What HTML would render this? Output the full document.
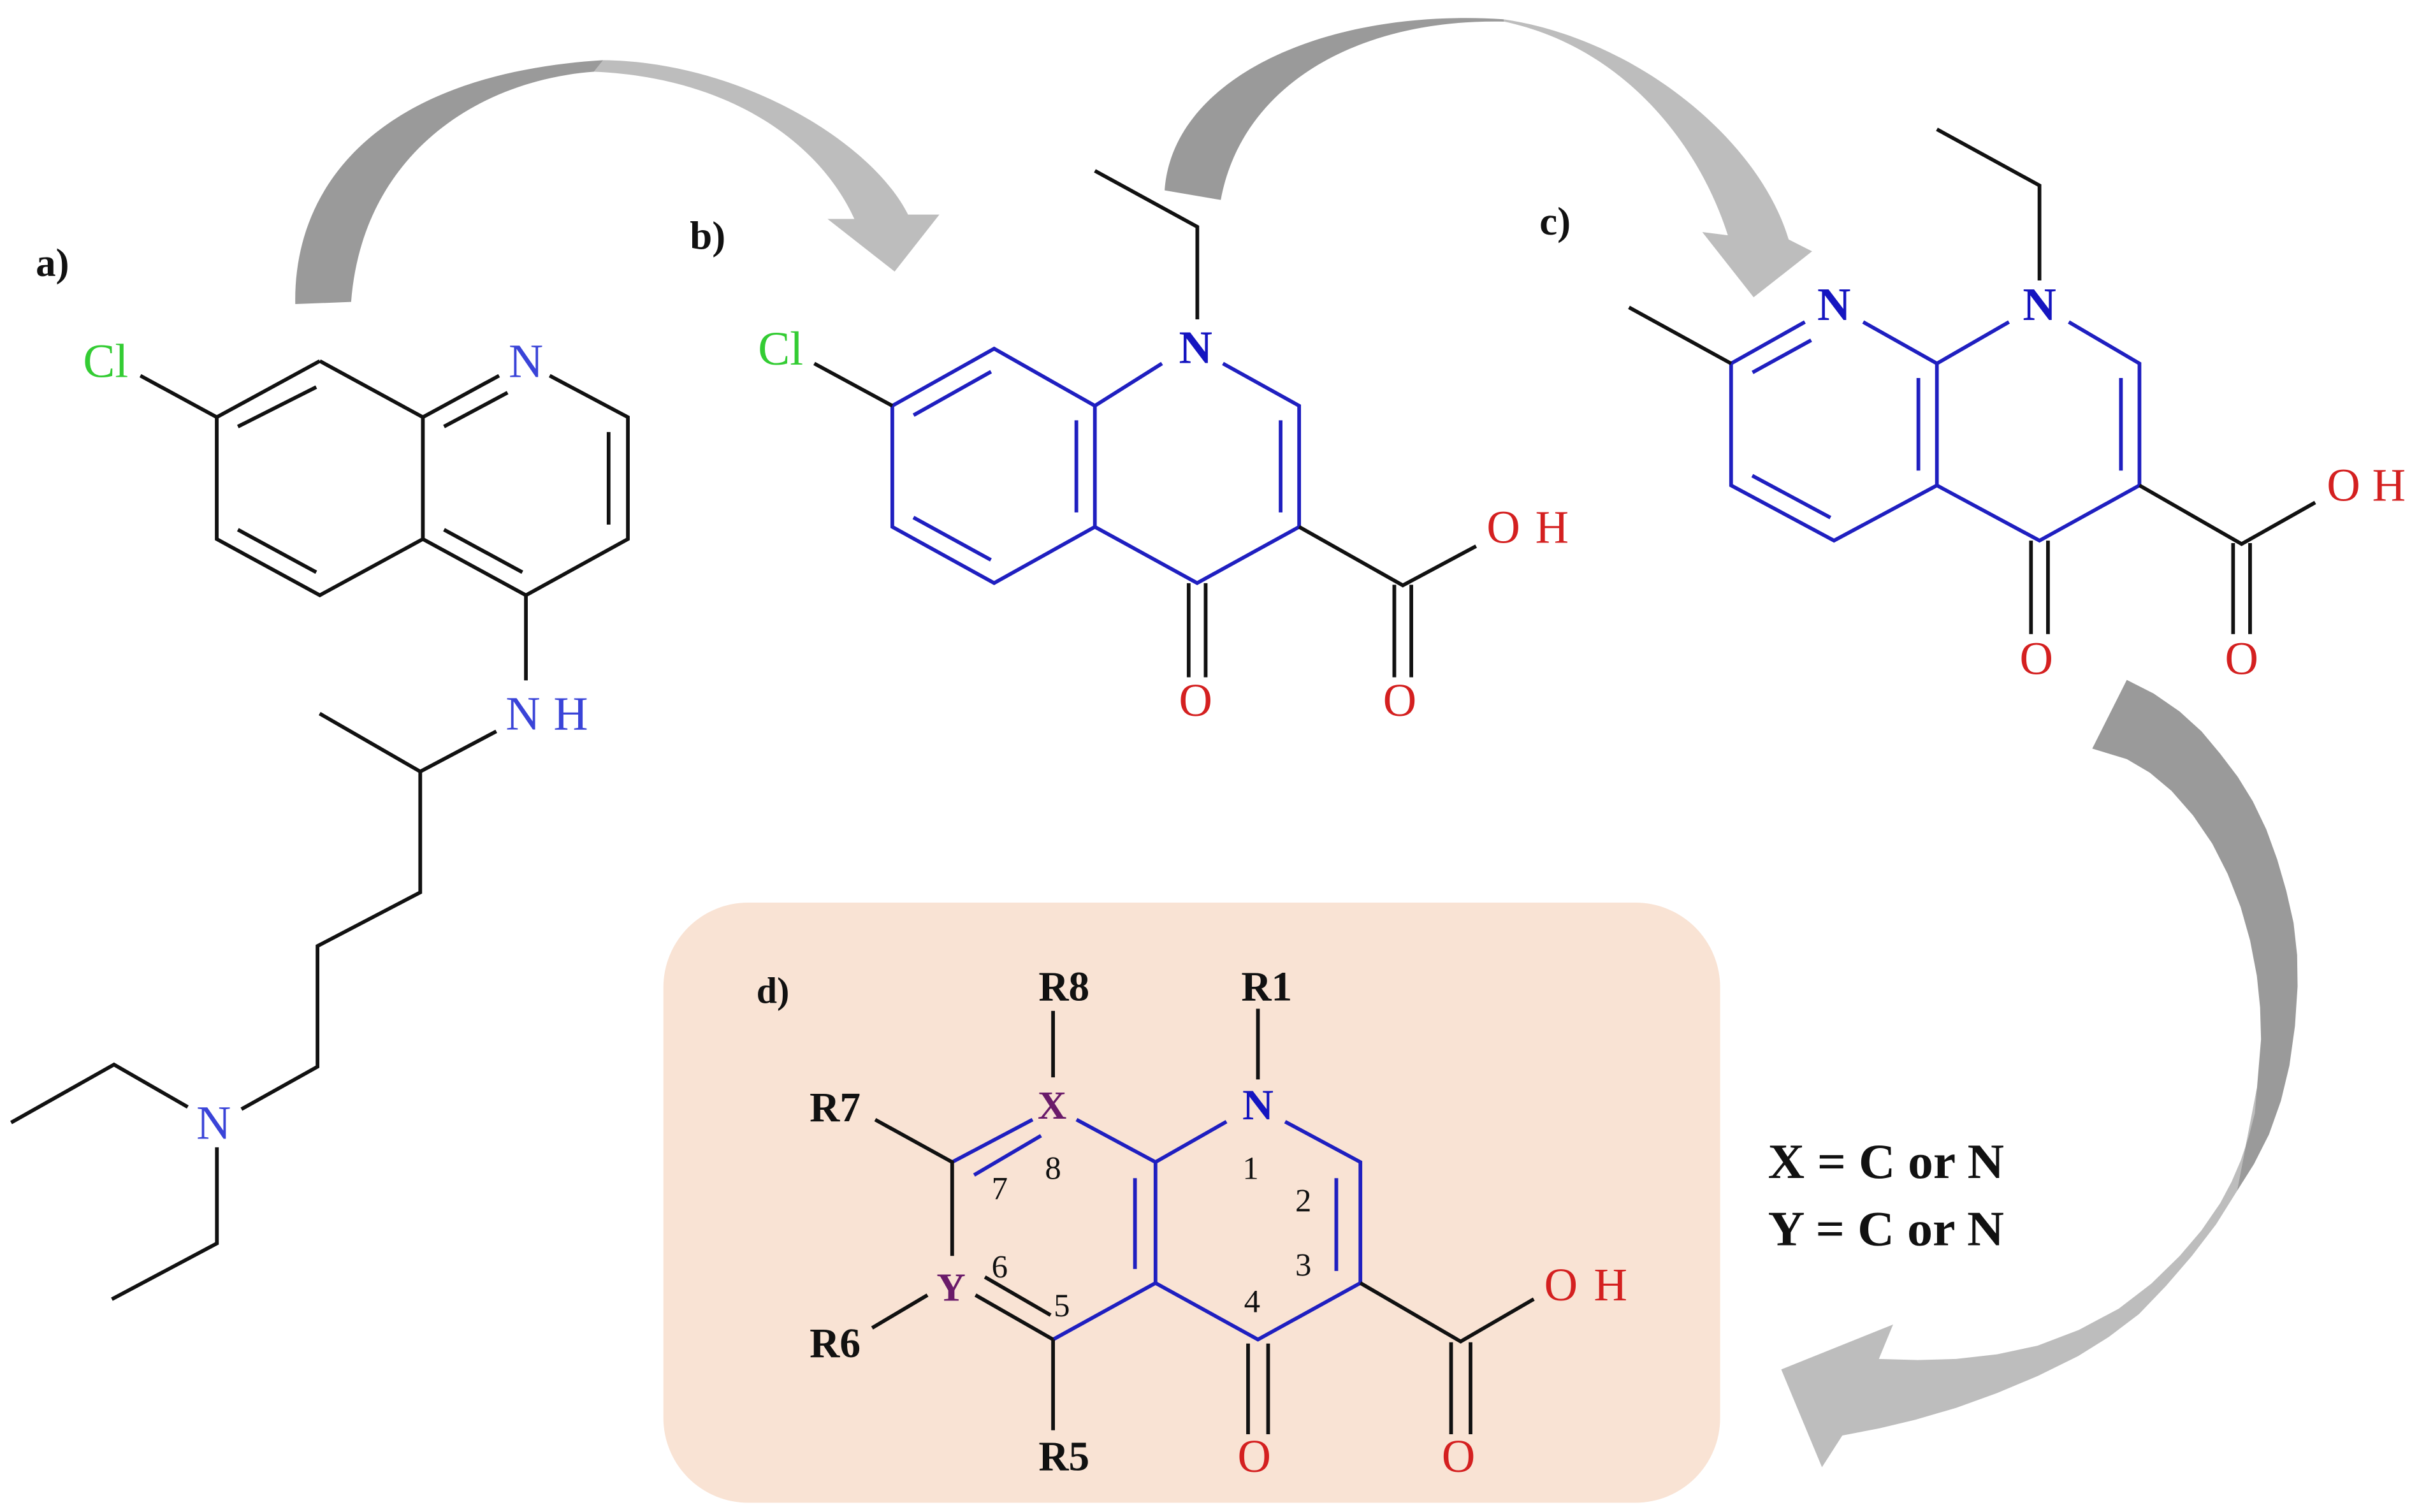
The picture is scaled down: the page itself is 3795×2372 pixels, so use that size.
<!DOCTYPE html>
<html>
<head>
<meta charset="utf-8">
<style>
html,body{margin:0;padding:0;background:#ffffff;}
svg{display:block;}
text{font-family:"Liberation Serif",serif;}
</style>
</head>
<body>
<svg xmlns="http://www.w3.org/2000/svg" width="3795" height="2372" viewBox="0 0 1568 980" preserveAspectRatio="none">
<rect x="0" y="0" width="1568" height="980" fill="#ffffff"/>

<!-- d) background box -->
<rect x="430" y="585" width="685" height="389" rx="55" ry="55" fill="#f9e3d4"/>

<!-- Arrow 1 -->
<path d="M191.4,197.1 C190,120 245,48 391,39 L385,46.5 C310,52 235,100 227.6,195.7 Z" fill="#9a9a9a"/>
<path d="M391,39 C480,40 565,92 588.6,139.1 L608.9,139.1 L579.9,176 L536.4,141.9 L553.8,141.9 C530,90 470,50 385,46.5 Z" fill="#bdbdbd"/>

<!-- Arrow 2 -->
<path d="M754.9,123.4 C760,50 860,5 974.6,12.5 L975,14 C880,12 805,55 791.3,129.6 Z" fill="#9a9a9a"/>
<path d="M974.6,12.5 C1060,25 1140,90 1159.4,155.2 L1174.6,162.9 L1136.7,192.7 L1103.4,150.4 L1120,152.5 C1100,90 1050,30 975,14 Z" fill="#bdbdbd"/>

<!-- Arrow 3 -->
<path d="M1378.6,440.7 L1396,449.5 L1412.9,461.2 L1427,474 L1439.2,488.6 L1450.5,503.5 L1460.3,519.4 L1469,537.5 L1476.1,557.1 L1482,577.5 L1486.7,598.2 L1489,619 L1489.3,639.3 L1487.6,665 L1484,690.7 L1478.5,713.5 L1470.8,735.2 L1461,754.5 L1450,772 L1463,705 L1465.6,673.6 L1465,653 L1462.9,632.5 L1458.5,609.5 L1452.4,587.9 L1444,566.5 L1434,546.8 L1421.5,528.5 L1407.6,512.6 L1393.5,500.8 L1378.6,492 L1356.2,485.2 Z" fill="#9a9a9a"/>
<path d="M1450,772 L1436.5,793.5 L1420.8,814 L1404,833.5 L1386.5,851.7 L1367,866.5 L1347,879 L1321,891.8 L1294.3,903 L1268,912.5 L1241.6,920.2 L1218,925.8 L1194.2,930.4 L1181,951 L1154.6,887.6 L1227.1,858.5 L1217.9,880.8 L1243,881.5 L1268,880.8 L1294.5,877.8 L1320.7,872.2 L1347.5,862 L1373.4,848.2 L1394.5,832 L1412.9,814 L1427,797.5 L1439.2,779.7 L1446.5,766 L1452.4,752.3 L1457.6,737 L1461.6,721.5 L1463,705 Z" fill="#bdbdbd"/>

<!-- ===== Structure a ===== -->
<path fill="none" stroke="#111" stroke-width="2.4" stroke-linejoin="miter" d="M91,243.5 L140.5,270.4 M207.3,234 L140.5,270.4 L140.5,349.4 L207.3,385.8 L274.1,349.4 L274.1,270.4 L207.3,234 M274.1,270.4 L323.5,243.5 M356.3,243.5 L407,270.4 L407,349.4 L340.9,385.8 L274.1,349.4 M154.2,276.5 L205,250.9 M154.2,343.3 L205,370.9 M287.8,276.5 L329,254.5 M394.5,280 L394.5,340 M338.6,370.9 L287.8,343.3 M340.9,385.8 L340.9,441 M321.7,474 L272.4,500.1 L207.2,462.5 M272.4,500.1 L272.4,578.4 L205.8,613.2 L205.8,691.4 L156.5,718.9 M121.7,717.5 L73.9,690 L7.2,727.6 M140.6,743.6 L140.6,805.9 L72.5,842.1"/>
<text x="68.5" y="244.3" font-size="31" fill="#33cc33" text-anchor="middle">Cl</text>
<text x="340.9" y="244.3" font-size="31" fill="#3a44d8" text-anchor="middle">N</text>
<text x="339" y="472.8" font-size="31" fill="#3a44d8" text-anchor="middle">N</text>
<text x="370" y="472.8" font-size="31" fill="#3a44d8" text-anchor="middle">H</text>
<text x="138.5" y="738" font-size="31" fill="#3a44d8" text-anchor="middle">N</text>
<text x="34" y="179" font-size="26" font-weight="bold" fill="#111" text-anchor="middle">a)</text>

<!-- ===== Structure b ===== -->
<path fill="none" stroke="#1f1fc0" stroke-width="2.4" d="M753.2,235.6 L709.7,263 L644.4,226 L578.4,263 L578.4,341.5 L644.4,377.9 L709.7,341.5 L709.7,263 M792.7,235.6 L842.1,263 L842.1,341.5 L776,377.9 L709.7,341.5 M592.2,269.1 L642.4,240.9 M592.1,335.4 L642.3,362.9 M697.7,272.4 L697.7,332.1 M830.1,272.4 L830.1,332.1"/>
<path fill="none" stroke="#111" stroke-width="2.4" d="M709.7,110.7 L776.1,147 L776.1,207 M527.8,235.6 L578.4,263 M770.5,378 L770.5,439 M781.5,378 L781.5,439 M842.1,341.5 L909.3,379.4 L956.8,354 M903.8,379 L903.8,439 M914.8,379 L914.8,439"/>
<text x="506" y="236.3" font-size="31" fill="#33cc33" text-anchor="middle">Cl</text>
<text x="775" y="235.3" font-size="30" font-weight="bold" fill="#1515c0" text-anchor="middle">N</text>
<text x="775" y="464" font-size="30" fill="#d42020" text-anchor="middle">O</text>
<text x="907.3" y="464" font-size="30" fill="#d42020" text-anchor="middle">O</text>
<text x="974.5" y="351.8" font-size="30" fill="#d42020" text-anchor="middle">O</text>
<text x="1006" y="351.8" font-size="30" fill="#d42020" text-anchor="middle">H</text>
<text x="458.7" y="161.4" font-size="26" font-weight="bold" fill="#111" text-anchor="middle">b)</text>

<!-- ===== Structure c ===== -->
<path fill="none" stroke="#1f1fc0" stroke-width="2.4" d="M1169.9,208.7 L1122.1,235.6 L1122.1,314.6 L1188.8,350.4 L1255.5,314.6 L1255.5,235.6 L1207.7,208.7 M1302.2,208.7 L1255.5,235.6 M1341,208.7 L1386.8,235.6 L1386.8,314.6 L1322,350.4 L1255.5,314.6 M1136,241.4 L1174,220.5 M1135.8,308.3 L1186.5,335.5 M1243.5,245 L1243.5,305 M1374.8,245 L1374.8,305"/>
<path fill="none" stroke="#111" stroke-width="2.4" d="M1255.5,83.8 L1322,120.2 L1322,181.8 M1055.9,199.2 L1122.1,235.6 M1316.5,350.4 L1316.5,411 M1327.5,350.4 L1327.5,411 M1386.8,314.6 L1453,352.6 L1500.7,325.7 M1447.5,352 L1447.5,411 M1458.5,352 L1458.5,411"/>
<text x="1188.8" y="207.5" font-size="30" font-weight="bold" fill="#1515c0" text-anchor="middle">N</text>
<text x="1322" y="207.5" font-size="30" font-weight="bold" fill="#1515c0" text-anchor="middle">N</text>
<text x="1320" y="437" font-size="30" fill="#d42020" text-anchor="middle">O</text>
<text x="1453" y="437" font-size="30" fill="#d42020" text-anchor="middle">O</text>
<text x="1519.1" y="324.5" font-size="30" fill="#d42020" text-anchor="middle">O</text>
<text x="1548.5" y="324.5" font-size="30" fill="#d42020" text-anchor="middle">H</text>
<text x="1008" y="152" font-size="26" font-weight="bold" fill="#111" text-anchor="middle">c)</text>

<!-- ===== Structure d ===== -->
<path fill="none" stroke="#1f1fc0" stroke-width="2.4" d="M617.2,753.2 L669.3,725.7 M631.4,761.6 L674.8,736.1 M697.8,725.7 L749,753.2 L795,727 M833,727 L881.8,753.2 L881.8,831.6 L815.4,868.2 L749,831.6 L749,753.2 M866.2,763.6 L866.2,823.8 M735.7,763.6 L735.7,822.5 M749,831.6 L682.6,868.2"/>
<path fill="none" stroke="#111" stroke-width="2.4" d="M682.6,655.2 L682.6,698.3 M815.4,653.8 L815.4,699.6 M567.3,725.7 L617.2,753.2 L617.2,814 M682.6,868.2 L632.3,839.4 M638.4,827.7 L681,852.4 M601.2,839.4 L565.3,860.7 M682.6,868.2 L682.6,927 M809,870.8 L809,929.6 M822,870.8 L822,929.6 M881.8,831.6 L946.8,869.5 L994.2,842 M940.6,870 L940.6,929.6 M953.2,870 L953.2,929.6"/>
<text x="689.7" y="648.4" font-size="27" font-weight="bold" fill="#111" text-anchor="middle">R8</text>
<text x="821.1" y="648.4" font-size="27" font-weight="bold" fill="#111" text-anchor="middle">R1</text>
<text x="541.3" y="726.8" font-size="27" font-weight="bold" fill="#111" text-anchor="middle">R7</text>
<text x="541.3" y="879.7" font-size="27" font-weight="bold" fill="#111" text-anchor="middle">R6</text>
<text x="689.7" y="952.9" font-size="27" font-weight="bold" fill="#111" text-anchor="middle">R5</text>
<text x="682" y="725" font-size="26" font-weight="bold" fill="#6a1b6a" text-anchor="middle">X</text>
<text x="815.4" y="725.5" font-size="28" font-weight="bold" fill="#1515c0" text-anchor="middle">N</text>
<text x="616.5" y="843" font-size="26" font-weight="bold" fill="#6a1b6a" text-anchor="middle">Y</text>
<text x="813" y="953.9" font-size="30" fill="#d42020" text-anchor="middle">O</text>
<text x="945.4" y="953.9" font-size="30" fill="#d42020" text-anchor="middle">O</text>
<text x="1011.8" y="842.8" font-size="30" fill="#d42020" text-anchor="middle">O</text>
<text x="1044" y="842.8" font-size="30" fill="#d42020" text-anchor="middle">H</text>
<g font-size="21" fill="#111" text-anchor="middle">
<text x="682.6" y="764.2">8</text>
<text x="648" y="777.3">7</text>
<text x="810.7" y="764.2">1</text>
<text x="844.8" y="785.1">2</text>
<text x="844.8" y="826.9">3</text>
<text x="811.6" y="850.5">4</text>
<text x="648" y="828.2">6</text>
<text x="688.3" y="853.1">5</text>
</g>
<text x="501" y="650" font-size="24" font-weight="bold" fill="#111" text-anchor="middle">d)</text>

<!-- legend -->
<text x="1146" y="763.6" font-size="32" font-weight="bold" fill="#111" textLength="153" lengthAdjust="spacingAndGlyphs">X = C or N</text>
<text x="1146" y="807" font-size="32" font-weight="bold" fill="#111" textLength="153" lengthAdjust="spacingAndGlyphs">Y = C or N</text>
</svg>
</body>
</html>
